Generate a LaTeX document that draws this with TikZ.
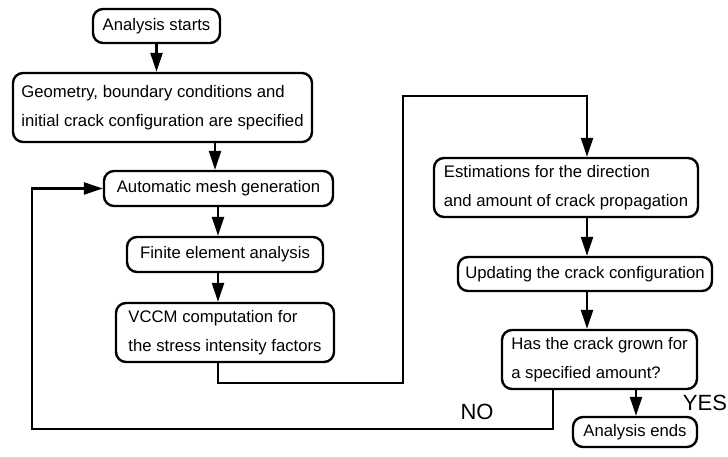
\documentclass[tikz,border=0pt]{standalone}
\usepackage{fontspec}
\setmainfont{Liberation Sans}
\usetikzlibrary{arrows.meta}
\begin{document}
\begin{tikzpicture}[x=1pt,y=-1pt,
  box/.style={draw, line width=2.4pt, rounded corners=10pt, inner xsep=6pt, inner ysep=0pt,
    align=left, font=\fontsize{16.7}{29}\selectfont},
  arr/.style={line width=2.4pt, line join=miter, -{Triangle[length=19pt,width=12pt]}},
  lbl/.style={font=\fontsize{22}{24}\selectfont, inner sep=0pt}]
\useasboundingbox (0,0) rectangle (728,457);
\fill[white] (0,0) rectangle (728,457);
% nodes
\node[box, minimum width=127pt, minimum height=34pt] (start) at (156.5,26) {Analysis starts};
\node[box, minimum width=299pt, minimum height=69pt] (geom) at (162.5,107.5)
  {Geometry, boundary conditions and\\initial crack configuration are specified};
\node[box, minimum width=229pt, minimum height=35pt] (mesh) at (218.5,188.5) {Automatic mesh generation};
\node[box, minimum width=196pt, minimum height=35pt] (fea) at (225,254.5) {Finite element analysis};
\node[box, minimum width=218pt, minimum height=59pt] (vccm) at (225,332.5)
  {VCCM computation for\\the stress intensity factors};
\node[box, minimum width=264pt, minimum height=59pt] (est) at (566,187.5)
  {Estimations for the direction\\and amount of crack propagation};
\node[box, minimum width=254pt, minimum height=34pt] (upd) at (585,274) {Updating the crack configuration};
\node[box, minimum width=195pt, minimum height=59pt] (has) at (599.5,359.5)
  {Has the crack grown for\\a specified amount?};
\node[box, minimum width=124pt, minimum height=30pt] (ends) at (635,432) {Analysis ends};
\node[lbl] (no) at (477,412) {NO};
\node[lbl] (yes) at (705,403) {YES};
% helper coordinates
\coordinate (c1) at (215,0);
\coordinate (cm) at (218,0);
\coordinate (t1) at (403,383);
\coordinate (t2) at (403,96);
\coordinate (ce) at (587,0);
\coordinate (cn) at (553,0);
\coordinate (cy) at (636,0);
\coordinate (b1) at (32,429);
% connectors
\draw[arr] (start.south) -- (start.south |- geom.north);
\draw[arr] (c1 |- geom.south) -- (c1 |- mesh.north);
\draw[arr] (cm |- mesh.south) -- (cm |- fea.north);
\draw[arr] (cm |- fea.south) -- (cm |- vccm.north);
\draw[arr] (cm |- vccm.south) |- (t1) -- (t2) -| (ce |- est.north);
\draw[arr] (ce |- est.south) -- (ce |- upd.north);
\draw[arr] (ce |- upd.south) -- (ce |- has.north);
\draw[arr] (cy |- has.south) -- (cy |- ends.north);
\draw[arr] (cn |- has.south) |- (b1) |- (mesh.west);
\end{tikzpicture}
\end{document}
